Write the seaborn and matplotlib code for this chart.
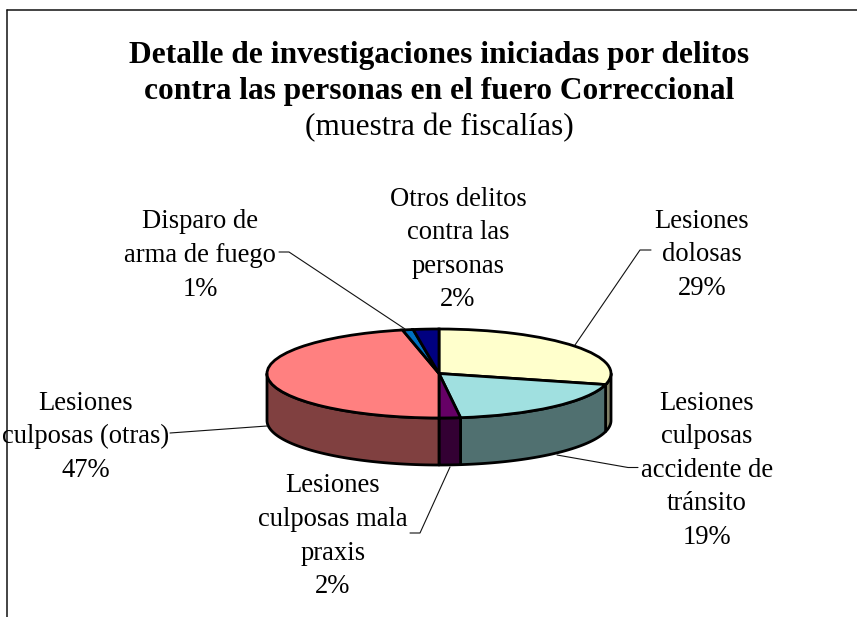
import numpy as np
import matplotlib
matplotlib.use('Agg')
import matplotlib.pyplot as plt
import seaborn as sns
from matplotlib.lines import Line2D

# Slices go clockwise from 12 o'clock
labels = ['Lesiones\ndolosas', 'Lesiones\nculposas\naccidente de\ntránsito',
          'Lesiones\nculposas mala\npraxis', 'Lesiones\nculposas (otras)',
          'Disparo de\narma de fuego', 'Otros delitos\ncontra las\npersonas']
values = [29, 19, 2, 46.6, 1, 2.4]
colors = ['#FFFFCC', '#A0E0E0', '#660066', '#FF8080', '#0070C0', '#000080']

title_lines = ['Detalle de investigaciones iniciadas por delitos',
               'contra las personas en el fuero Correccional']
subtitle = '(muestra de fiscalías)'

W, H = 857, 617

sns.set_theme(style='white')
plt.rcParams['font.family'] = ['Liberation Serif', 'DejaVu Serif']
side_colors = [tuple(c / 2 for c in rgb) for rgb in sns.color_palette(colors)]

fig = plt.figure(figsize=(W / 100, H / 100), dpi=100, facecolor='white')

def fx(x):
    return x / W

def fy(y):
    return 1 - y / H

# pie box in pixels: ellipse half axes 172 x 44.5, wall 47 high
left, right, top, bottom = 267, 611, 329, 465
depth = 47 / 44.5
ax = fig.add_axes([fx(left), fy(bottom), (right - left) / W, (bottom - top) / H])
ax.patch.set_alpha(0)

# walls of the front half
edges = np.cumsum([0] + values) / sum(values) * 360
for i, col in enumerate(side_colors):
    a0, a1 = max(edges[i], 90), min(edges[i + 1], 270)
    if a1 <= a0:
        continue
    t = np.radians(np.linspace(a0, a1, 80))
    x, y = np.sin(t), np.cos(t)
    ax.fill(np.r_[x, x[::-1]], np.r_[y, y[::-1] - depth], facecolor=col,
            edgecolor='black', linewidth=2.0, joinstyle='round', clip_on=False)

ax.pie(values, colors=colors, startangle=90, counterclock=False, radius=1,
       wedgeprops={'edgecolor': 'black', 'linewidth': 2.0, 'clip_on': False})
ax.set_aspect('auto')
ax.set_xlim(-1, 1)
ax.set_ylim(-1 - depth, 1)
ax.axis('off')

# frame: only top and left show
for xs, ys in [((7, W), (10, 10)), ((7, 7), (10, H))]:
    fig.add_artist(Line2D([fx(v) for v in xs], [fy(v) for v in ys], color='#111111', lw=1.1))

# leader lines
leaders = [
    [(279, 252), (289, 252), (405, 329)],
    [(651, 250), (640, 250), (575, 345)],
    [(170, 433), (267, 426)],
    [(557, 455), (628, 467.5), (638, 467.5)],
    [(450, 467), (420, 533), (410, 533)],
]
for pts in leaders:
    fig.add_artist(Line2D([fx(p[0]) for p in pts], [fy(p[1]) for p in pts],
                          color='#111111', lw=0.8, zorder=1))

# slice labels: centre x, y of first line
label_pos = [(702, 218), (707, 400), (333, 483), (86, 400), (200, 219), (458, 196)]
step = 33.6
for name, v, (px, py) in zip(labels, values, label_pos):
    for k, line in enumerate(name.split('\n') + [f'{round(v)}%']):
        fig.text(fx(px), fy(py + k * step), line, ha='center', va='center_baseline',
                 fontsize=19.2, color='black')

fig.text(fx(439), fy(52), title_lines[0], ha='center', va='center_baseline',
         fontsize=22.6, fontweight='bold', color='black')
fig.text(fx(439), fy(88), title_lines[1], ha='center', va='center_baseline',
         fontsize=22.6, fontweight='bold', color='black')
fig.text(fx(439), fy(124), subtitle, ha='center', va='center_baseline',
         fontsize=22.6, color='black')

fig.savefig('out.png', dpi=100)
